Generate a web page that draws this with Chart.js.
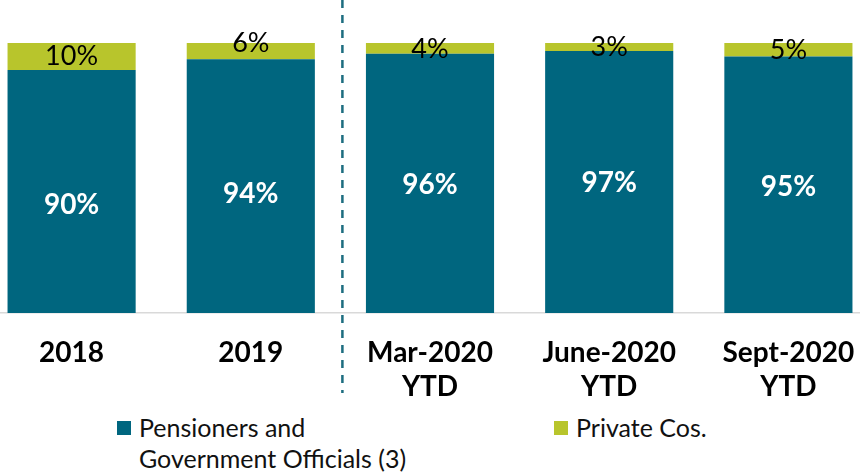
<!DOCTYPE html>
<html>
<head>
<meta charset="utf-8">
<script src="https://cdn.jsdelivr.net/npm/chart.js@4"></script>
<style>
  html, body { margin: 0; padding: 0; background: #fff; overflow: hidden; }
  body { width: 860px; height: 474px; position: relative; font-family: Lato, "Open Sans", sans-serif; }
  #wrap { position: absolute; left: -18px; top: 0; width: 896px; height: 400px; }
  .legend { position: absolute; top: 412px; font-size: 25px; line-height: 31px; color: #111; }
  .legend .box { position: absolute; left: 0; top: 9px; width: 14px; height: 14px; }
  .legend .txt { margin-left: 22px; }
</style>
</head>
<body>
<div id="wrap"><canvas id="chart"></canvas></div>
<div class="legend" style="left:117px"><span class="box" style="background:#00667f"></span><div class="txt">Pensioners and<br>Government Officials (3)</div></div>
<div class="legend" style="left:554px"><span class="box" style="background:#b8c52c"></span><div class="txt">Private Cos.</div></div>
<script>
// Categories and shares (%)
const categories = [['2018'], ['2019'], ['Mar-2020', 'YTD'], ['June-2020', 'YTD'], ['Sept-2020', 'YTD']];
const pensioners = [90, 94, 96, 97, 95];
const privateCos = [10, 6, 4, 3, 5];

const TEAL = '#00667f';
const GREEN = '#b8c52c';
const FONT = 'Lato, "Open Sans", sans-serif';

// small vertical nudges so the labels sit where the original put them
const tealNudge = [13, 8, 2, 1, 2];
const greenNudge = [0, -8, 1, 0, 1];

// Percent labels inside each segment
const segmentLabels = {
  id: 'segmentLabels',
  afterDatasetsDraw(chart) {
    const ctx = chart.ctx;
    ctx.save();
    ctx.textAlign = 'center';
    ctx.textBaseline = 'middle';
    chart.data.datasets.forEach((ds, di) => {
      chart.getDatasetMeta(di).data.forEach((bar, i) => {
        let y = (bar.y + bar.base) / 2;
        if (di === 0) {
          ctx.fillStyle = '#fff';
          ctx.font = 'bold 28px ' + FONT;
          y += tealNudge[i];
        } else {
          ctx.fillStyle = '#000';
          ctx.font = '27px ' + FONT;
          y += greenNudge[i];
        }
        ctx.fillText(ds.data[i] + '%', bar.x, y);
      });
    });
    ctx.restore();
  }
};

// Dashed divider between 2019 and 2020 periods
const divider = {
  id: 'divider',
  afterDraw(chart) {
    const x = chart.scales.x;
    const px = (x.getPixelForValue(1) + x.getPixelForValue(2)) / 2 + 2;
    const ctx = chart.ctx;
    ctx.save();
    ctx.strokeStyle = '#1d6d80';
    ctx.lineWidth = 2.5;
    ctx.setLineDash([8, 7]);
    ctx.beginPath();
    ctx.moveTo(px, 0);
    ctx.lineTo(px, 393);
    ctx.stroke();
    ctx.restore();
  }
};

new Chart(document.getElementById('chart'), {
  type: 'bar',
  data: {
    labels: categories,
    datasets: [
      { label: 'Pensioners and Government Officials (3)', data: pensioners, backgroundColor: TEAL },
      { label: 'Private Cos.', data: privateCos, backgroundColor: GREEN }
    ]
  },
  options: {
    responsive: true,
    maintainAspectRatio: false,
    animation: false,
    layout: { padding: { top: 43, left: 0, right: 0, bottom: 0 } },
    datasets: { bar: { barPercentage: 0.715, categoryPercentage: 1 } },
    plugins: {
      legend: { display: false },
      tooltip: { enabled: false }
    },
    scales: {
      x: {
        stacked: true,
        grid: { display: false },
        border: { display: true, color: '#d9d9d9', width: 1.5 },
        ticks: {
          color: '#000',
          font: { family: FONT, size: 28, weight: 'bold', lineHeight: 1.22 },
          padding: 15,
          maxRotation: 0,
          autoSkip: false
        },
        afterFit(scale) { scale.height = 87; }
      },
      y: {
        stacked: true,
        display: false,
        min: 0,
        max: 100
      }
    }
  },
  plugins: [segmentLabels, divider]
});
</script>
</body>
</html>
